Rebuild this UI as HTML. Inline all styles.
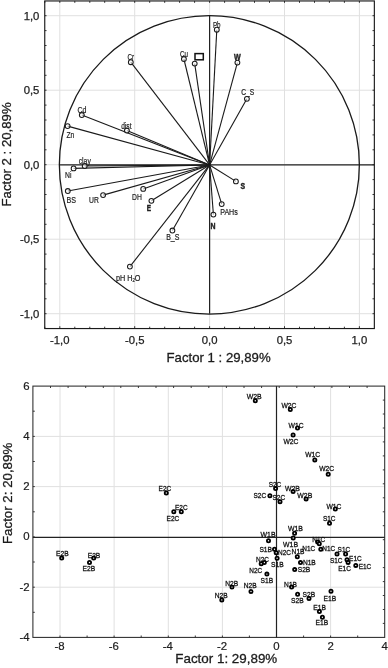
<!DOCTYPE html><html><head><meta charset="utf-8"><title>PCA plots</title><style>
html,body{margin:0;padding:0;background:#fff}svg{display:block}
text{font-family:"Liberation Sans",Arial,sans-serif;fill:#1c1c1c}
.tk{font-size:11.3px;stroke:#1c1c1c;stroke-width:0.25}.tk2{font-size:11.4px;stroke:#1c1c1c;stroke-width:0.2}.ti{font-size:13.2px;stroke:#1c1c1c;stroke-width:0.3}.lb{font-size:9.2px;fill:#222;stroke:#222;stroke-width:0.22}.lb2{font-size:8px;fill:#111;stroke:#111;stroke-width:0.3}.b{font-weight:bold;stroke-width:0.45 !important}
.g{stroke:#e0e0e0;stroke-width:1;fill:none}
.ln{stroke:#1a1a1a;stroke-width:1.1;fill:none}
</style></head><body>
<svg width="388" height="668" viewBox="0 0 388 668">
<rect width="388" height="668" fill="#fff"/>
<line class="g" x1="59.8" y1="0.95" x2="59.8" y2="328.5"/>
<line class="g" x1="44.75" y1="313.7" x2="374.3" y2="313.7"/>
<line class="g" x1="134.7" y1="0.95" x2="134.7" y2="328.5"/>
<line class="g" x1="44.75" y1="239.2" x2="374.3" y2="239.2"/>
<line class="g" x1="209.6" y1="0.95" x2="209.6" y2="328.5"/>
<line class="g" x1="44.75" y1="164.7" x2="374.3" y2="164.7"/>
<line class="g" x1="284.5" y1="0.95" x2="284.5" y2="328.5"/>
<line class="g" x1="44.75" y1="90.2" x2="374.3" y2="90.2"/>
<line class="g" x1="359.4" y1="0.95" x2="359.4" y2="328.5"/>
<line class="g" x1="44.75" y1="15.7" x2="374.3" y2="15.7"/>
<path d="M44.8 328.5v-1.8M44.8 0.95v1.9M59.8 328.5v-2.3M59.8 0.95v1.9M44.75 313.7h1.8M374.3 313.7h-1.8M74.8 328.5v-1.8M74.8 0.95v1.9M44.75 298.8h1.8M374.3 298.8h-1.8M89.8 328.5v-1.8M89.8 0.95v1.9M44.75 283.9h1.8M374.3 283.9h-1.8M104.7 328.5v-1.8M104.7 0.95v1.9M44.75 269.0h1.8M374.3 269.0h-1.8M119.7 328.5v-1.8M119.7 0.95v1.9M44.75 254.1h1.8M374.3 254.1h-1.8M134.7 328.5v-2.3M134.7 0.95v1.9M44.75 239.2h1.8M374.3 239.2h-1.8M149.7 328.5v-1.8M149.7 0.95v1.9M44.75 224.3h1.8M374.3 224.3h-1.8M164.7 328.5v-1.8M164.7 0.95v1.9M44.75 209.4h1.8M374.3 209.4h-1.8M179.6 328.5v-1.8M179.6 0.95v1.9M44.75 194.5h1.8M374.3 194.5h-1.8M194.6 328.5v-1.8M194.6 0.95v1.9M44.75 179.6h1.8M374.3 179.6h-1.8M209.6 328.5v-2.3M209.6 0.95v1.9M44.75 164.7h1.8M374.3 164.7h-1.8M224.6 328.5v-1.8M224.6 0.95v1.9M44.75 149.8h1.8M374.3 149.8h-1.8M239.6 328.5v-1.8M239.6 0.95v1.9M44.75 134.9h1.8M374.3 134.9h-1.8M254.5 328.5v-1.8M254.5 0.95v1.9M44.75 120.0h1.8M374.3 120.0h-1.8M269.5 328.5v-1.8M269.5 0.95v1.9M44.75 105.1h1.8M374.3 105.1h-1.8M284.5 328.5v-2.3M284.5 0.95v1.9M44.75 90.2h1.8M374.3 90.2h-1.8M299.5 328.5v-1.8M299.5 0.95v1.9M44.75 75.3h1.8M374.3 75.3h-1.8M314.5 328.5v-1.8M314.5 0.95v1.9M44.75 60.4h1.8M374.3 60.4h-1.8M329.4 328.5v-1.8M329.4 0.95v1.9M44.75 45.5h1.8M374.3 45.5h-1.8M344.4 328.5v-1.8M344.4 0.95v1.9M44.75 30.6h1.8M374.3 30.6h-1.8M359.4 328.5v-2.3M359.4 0.95v1.9M44.75 15.7h1.8M374.3 15.7h-1.8" stroke="#222" stroke-width="0.9" fill="none"/>
<rect x="44.75" y="0.95" width="329.6" height="327.6" fill="none" stroke="#1a1a1a" stroke-width="1.15"/>
<line x1="59.4" y1="164.9" x2="374.3" y2="164.9" stroke="#222" stroke-width="1.2"/>
<line x1="209.6" y1="15.7" x2="209.6" y2="313.7" stroke="#222" stroke-width="1.2"/>
<ellipse cx="209.35" cy="164.85" rx="150.0" ry="149.2" fill="none" stroke="#1a1a1a" stroke-width="1.3"/>
<line class="ln" x1="209.6" y1="164.95" x2="130.8" y2="62.2"/>
<line class="ln" x1="209.6" y1="164.95" x2="183.9" y2="59.0"/>
<line class="ln" x1="209.6" y1="164.95" x2="194.7" y2="63.6"/>
<line class="ln" x1="209.6" y1="164.95" x2="216.8" y2="29.7"/>
<line class="ln" x1="209.6" y1="164.95" x2="237.4" y2="62.6"/>
<line class="ln" x1="209.6" y1="164.95" x2="246.9" y2="98.8"/>
<line class="ln" x1="209.6" y1="164.95" x2="81.8" y2="115.0"/>
<line class="ln" x1="209.6" y1="164.95" x2="67.6" y2="126.1"/>
<line class="ln" x1="209.6" y1="164.95" x2="126.9" y2="130.5"/>
<line class="ln" x1="209.6" y1="164.95" x2="84.7" y2="166.0"/>
<line class="ln" x1="209.6" y1="164.95" x2="73.6" y2="168.4"/>
<line class="ln" x1="209.6" y1="164.95" x2="67.8" y2="191.0"/>
<line class="ln" x1="209.6" y1="164.95" x2="103.1" y2="195.1"/>
<line class="ln" x1="209.6" y1="164.95" x2="143.2" y2="188.9"/>
<line class="ln" x1="209.6" y1="164.95" x2="151.4" y2="200.8"/>
<line class="ln" x1="209.6" y1="164.95" x2="172.4" y2="230.5"/>
<line class="ln" x1="209.6" y1="164.95" x2="129.9" y2="266.6"/>
<line class="ln" x1="209.6" y1="164.95" x2="235.9" y2="181.4"/>
<line class="ln" x1="209.6" y1="164.95" x2="221.7" y2="204.1"/>
<line class="ln" x1="209.6" y1="164.95" x2="213.4" y2="214.6"/>
<circle cx="130.8" cy="62.2" r="2.4" fill="#fff" fill-opacity="0.6" stroke="#1a1a1a" stroke-width="1.05"/>
<circle cx="183.9" cy="59.0" r="2.4" fill="#fff" fill-opacity="0.6" stroke="#1a1a1a" stroke-width="1.05"/>
<circle cx="194.7" cy="63.6" r="2.4" fill="#fff" fill-opacity="0.6" stroke="#1a1a1a" stroke-width="1.05"/>
<circle cx="216.8" cy="29.7" r="2.4" fill="#fff" fill-opacity="0.6" stroke="#1a1a1a" stroke-width="1.05"/>
<circle cx="237.4" cy="62.6" r="2.4" fill="#fff" fill-opacity="0.6" stroke="#1a1a1a" stroke-width="1.05"/>
<circle cx="246.9" cy="98.8" r="2.4" fill="#fff" fill-opacity="0.6" stroke="#1a1a1a" stroke-width="1.05"/>
<circle cx="81.8" cy="115.0" r="2.4" fill="#fff" fill-opacity="0.6" stroke="#1a1a1a" stroke-width="1.05"/>
<circle cx="67.6" cy="126.1" r="2.4" fill="#fff" fill-opacity="0.6" stroke="#1a1a1a" stroke-width="1.05"/>
<circle cx="126.9" cy="130.5" r="2.4" fill="#fff" fill-opacity="0.6" stroke="#1a1a1a" stroke-width="1.05"/>
<circle cx="84.7" cy="166.0" r="2.4" fill="#fff" fill-opacity="0.6" stroke="#1a1a1a" stroke-width="1.05"/>
<circle cx="73.6" cy="168.4" r="2.4" fill="#fff" fill-opacity="0.6" stroke="#1a1a1a" stroke-width="1.05"/>
<circle cx="67.8" cy="191.0" r="2.4" fill="#fff" fill-opacity="0.6" stroke="#1a1a1a" stroke-width="1.05"/>
<circle cx="103.1" cy="195.1" r="2.4" fill="#fff" fill-opacity="0.6" stroke="#1a1a1a" stroke-width="1.05"/>
<circle cx="143.2" cy="188.9" r="2.4" fill="#fff" fill-opacity="0.6" stroke="#1a1a1a" stroke-width="1.05"/>
<circle cx="151.4" cy="200.8" r="2.4" fill="#fff" fill-opacity="0.6" stroke="#1a1a1a" stroke-width="1.05"/>
<circle cx="172.4" cy="230.5" r="2.4" fill="#fff" fill-opacity="0.6" stroke="#1a1a1a" stroke-width="1.05"/>
<circle cx="129.9" cy="266.6" r="2.4" fill="#fff" fill-opacity="0.6" stroke="#1a1a1a" stroke-width="1.05"/>
<circle cx="235.9" cy="181.4" r="2.4" fill="#fff" fill-opacity="0.6" stroke="#1a1a1a" stroke-width="1.05"/>
<circle cx="221.7" cy="204.1" r="2.4" fill="#fff" fill-opacity="0.6" stroke="#1a1a1a" stroke-width="1.05"/>
<circle cx="213.4" cy="214.6" r="2.4" fill="#fff" fill-opacity="0.6" stroke="#1a1a1a" stroke-width="1.05"/>
<rect x="195.0" y="53.6" width="8.3" height="6.2" fill="#fff" stroke="#111" stroke-width="1.5"/>
<text class="lb" x="127.4" y="60.0" textLength="6.6" lengthAdjust="spacingAndGlyphs">Cr</text>
<text class="lb" x="179.9" y="56.7" textLength="8.0" lengthAdjust="spacingAndGlyphs">Cu</text>
<text class="lb" x="212.9" y="27.9" textLength="7.7" lengthAdjust="spacingAndGlyphs">Pb</text>
<text class="lb b" x="234.0" y="60.3" textLength="6.7" lengthAdjust="spacingAndGlyphs">W</text>
<text class="lb" x="241.2" y="94.8" textLength="12.9" lengthAdjust="spacingAndGlyphs">C_S</text>
<text class="lb" x="77.4" y="112.5" textLength="9.0" lengthAdjust="spacingAndGlyphs">Cd</text>
<text class="lb" x="66.5" y="138.3" textLength="7.8" lengthAdjust="spacingAndGlyphs">Zn</text>
<text class="lb" x="121.2" y="128.5" textLength="10.3" lengthAdjust="spacingAndGlyphs">dist</text>
<text class="lb" x="78.7" y="163.9" textLength="12.1" lengthAdjust="spacingAndGlyphs">clay</text>
<text class="lb" x="65.0" y="178.0" textLength="6.4" lengthAdjust="spacingAndGlyphs">Ni</text>
<text class="lb" x="66.5" y="202.8" textLength="9.5" lengthAdjust="spacingAndGlyphs">BS</text>
<text class="lb" x="89.0" y="202.5" textLength="9.8" lengthAdjust="spacingAndGlyphs">UR</text>
<text class="lb" x="132.0" y="199.8" textLength="9.8" lengthAdjust="spacingAndGlyphs">DH</text>
<text class="lb b" x="146.7" y="211.2" textLength="4.3" lengthAdjust="spacingAndGlyphs">E</text>
<text class="lb" x="166.2" y="239.8" textLength="13.2" lengthAdjust="spacingAndGlyphs">B_S</text>
<text class="lb" x="116.0" y="280.6" textLength="24.5" lengthAdjust="spacingAndGlyphs">pH H<tspan font-size="5.5px" dy="1.5">2</tspan><tspan dy="-1.5">O</tspan></text>
<text class="lb b" x="240.5" y="188.7" textLength="4.6" lengthAdjust="spacingAndGlyphs">S</text>
<text class="lb" x="220.2" y="214.8" textLength="17.6" lengthAdjust="spacingAndGlyphs">PAHs</text>
<text class="lb b" x="210.5" y="228.5" textLength="5.0" lengthAdjust="spacingAndGlyphs">N</text>
<text class="tk" x="59.8" y="343.7" text-anchor="middle">-1,0</text>
<text class="tk" x="39.4" y="317.6" text-anchor="end">-1,0</text>
<text class="tk" x="134.7" y="343.7" text-anchor="middle">-0,5</text>
<text class="tk" x="39.4" y="243.1" text-anchor="end">-0,5</text>
<text class="tk" x="209.6" y="343.7" text-anchor="middle">0,0</text>
<text class="tk" x="39.4" y="168.6" text-anchor="end">0,0</text>
<text class="tk" x="284.5" y="343.7" text-anchor="middle">0,5</text>
<text class="tk" x="39.4" y="94.1" text-anchor="end">0,5</text>
<text class="tk" x="359.4" y="343.7" text-anchor="middle">1,0</text>
<text class="tk" x="39.4" y="19.6" text-anchor="end">1,0</text>
<text class="ti" x="218.6" y="362.3" text-anchor="middle">Factor 1 : 29,89%</text>
<text class="ti" transform="translate(10.8,154.4) rotate(-90)" text-anchor="middle">Factor 2 : 20,89%</text>
<line class="g" x1="60.0" y1="386.1" x2="60.0" y2="637.4"/>
<line class="g" x1="114.1" y1="386.1" x2="114.1" y2="637.4"/>
<line class="g" x1="168.3" y1="386.1" x2="168.3" y2="637.4"/>
<line class="g" x1="222.4" y1="386.1" x2="222.4" y2="637.4"/>
<line class="g" x1="330.6" y1="386.1" x2="330.6" y2="637.4"/>
<line class="g" x1="32.9" y1="587.2" x2="384.7" y2="587.2"/>
<line class="g" x1="32.9" y1="486.6" x2="384.7" y2="486.6"/>
<line class="g" x1="32.9" y1="436.4" x2="384.7" y2="436.4"/>
<path d="M60.0 637.4v-1.9M87.1 637.4v-1.9M114.1 637.4v-1.9M141.2 637.4v-1.9M168.3 637.4v-1.9M195.3 637.4v-1.9M222.4 637.4v-1.9M249.4 637.4v-1.9M276.5 637.4v-1.9M303.6 637.4v-1.9M330.6 637.4v-1.9M357.7 637.4v-1.9M32.9 612.3h1.9M32.9 587.2h1.9M32.9 562.0h1.9M32.9 536.9h1.9M32.9 511.8h1.9M32.9 486.6h1.9M32.9 461.5h1.9M32.9 436.4h1.9M32.9 411.2h1.9M50.5 386.1v1.9M68.1 386.1v1.9M85.7 386.1v1.9M103.3 386.1v1.9M120.8 386.1v1.9M138.4 386.1v1.9M156.0 386.1v1.9M173.6 386.1v1.9M191.2 386.1v1.9M208.8 386.1v1.9M226.4 386.1v1.9M244.0 386.1v1.9M261.6 386.1v1.9M279.2 386.1v1.9M296.8 386.1v1.9M314.3 386.1v1.9M331.9 386.1v1.9M349.5 386.1v1.9M367.1 386.1v1.9M384.7 400.1h-1.9M384.7 414.0h-1.9M384.7 428.0h-1.9M384.7 441.9h-1.9M384.7 455.9h-1.9M384.7 469.9h-1.9M384.7 483.8h-1.9M384.7 497.8h-1.9M384.7 511.8h-1.9M384.7 525.7h-1.9M384.7 539.7h-1.9M384.7 553.6h-1.9M384.7 567.6h-1.9M384.7 581.6h-1.9M384.7 595.5h-1.9M384.7 609.5h-1.9M384.7 623.4h-1.9" stroke="#222" stroke-width="0.9" fill="none"/>
<rect x="32.9" y="386.1" width="351.8" height="251.3" fill="none" stroke="#2a2a2a" stroke-width="1.05"/>
<line x1="32.9" y1="537.4" x2="384.7" y2="537.4" stroke="#222" stroke-width="1.2"/>
<line x1="276.5" y1="386.1" x2="276.5" y2="637.4" stroke="#222" stroke-width="1.2"/>
<text class="lb2" x="56.0" y="556.4" textLength="12.6" lengthAdjust="spacingAndGlyphs">E2B</text>
<text class="lb2" x="87.7" y="557.7" textLength="12.6" lengthAdjust="spacingAndGlyphs">E2B</text>
<text class="lb2" x="82.5" y="571.3" textLength="12.6" lengthAdjust="spacingAndGlyphs">E2B</text>
<text class="lb2" x="158.6" y="491.2" textLength="12.6" lengthAdjust="spacingAndGlyphs">E2C</text>
<text class="lb2" x="166.6" y="521.1" textLength="12.6" lengthAdjust="spacingAndGlyphs">E2C</text>
<text class="lb2" x="175.0" y="510.3" textLength="12.6" lengthAdjust="spacingAndGlyphs">E2C</text>
<text class="lb2" x="246.7" y="399.2" textLength="15.0" lengthAdjust="spacingAndGlyphs">W2B</text>
<text class="lb2" x="281.4" y="408.0" textLength="15.0" lengthAdjust="spacingAndGlyphs">W2C</text>
<text class="lb2" x="288.6" y="428.3" textLength="15.0" lengthAdjust="spacingAndGlyphs">W1C</text>
<text class="lb2" x="283.5" y="444.1" textLength="15.0" lengthAdjust="spacingAndGlyphs">W2C</text>
<text class="lb2" x="305.2" y="457.3" textLength="15.0" lengthAdjust="spacingAndGlyphs">W1C</text>
<text class="lb2" x="319.2" y="470.9" textLength="15.0" lengthAdjust="spacingAndGlyphs">W2C</text>
<text class="lb2" x="284.9" y="490.9" textLength="15.0" lengthAdjust="spacingAndGlyphs">W2B</text>
<text class="lb2" x="297.3" y="498.2" textLength="15.0" lengthAdjust="spacingAndGlyphs">W2B</text>
<text class="lb2" x="326.4" y="508.6" textLength="15.0" lengthAdjust="spacingAndGlyphs">W1C</text>
<text class="lb2" x="322.9" y="520.6" textLength="12.6" lengthAdjust="spacingAndGlyphs">S1C</text>
<text class="lb2" x="268.7" y="486.8" textLength="12.6" lengthAdjust="spacingAndGlyphs">S2C</text>
<text class="lb2" x="253.5" y="498.2" textLength="12.6" lengthAdjust="spacingAndGlyphs">S2C</text>
<text class="lb2" x="272.5" y="500.2" textLength="12.6" lengthAdjust="spacingAndGlyphs">S2C</text>
<text class="lb2" x="287.9" y="530.5" textLength="15.0" lengthAdjust="spacingAndGlyphs">W1B</text>
<text class="lb2" x="283.1" y="546.6" textLength="15.0" lengthAdjust="spacingAndGlyphs">W1B</text>
<text class="lb2" x="260.5" y="536.7" textLength="15.0" lengthAdjust="spacingAndGlyphs">W1B</text>
<text class="lb2" x="259.4" y="551.7" textLength="12.6" lengthAdjust="spacingAndGlyphs">S1B</text>
<text class="lb2" x="278.0" y="555.2" textLength="12.9" lengthAdjust="spacingAndGlyphs">N2C</text>
<text class="lb2" x="271.0" y="566.5" textLength="12.6" lengthAdjust="spacingAndGlyphs">S1B</text>
<text class="lb2" x="256.0" y="561.5" textLength="12.9" lengthAdjust="spacingAndGlyphs">N2C</text>
<text class="lb2" x="249.3" y="572.6" textLength="12.9" lengthAdjust="spacingAndGlyphs">N2C</text>
<text class="lb2" x="260.5" y="582.8" textLength="12.6" lengthAdjust="spacingAndGlyphs">S1B</text>
<text class="lb2" x="291.6" y="554.3" textLength="12.9" lengthAdjust="spacingAndGlyphs">N1B</text>
<text class="lb2" x="302.9" y="565.1" textLength="12.9" lengthAdjust="spacingAndGlyphs">N1B</text>
<text class="lb2" x="297.7" y="572.3" textLength="12.6" lengthAdjust="spacingAndGlyphs">S2B</text>
<text class="lb2" x="312.3" y="541.6" textLength="12.9" lengthAdjust="spacingAndGlyphs">N1C</text>
<text class="lb2" x="302.3" y="551.0" textLength="12.9" lengthAdjust="spacingAndGlyphs">N1C</text>
<text class="lb2" x="322.3" y="551.0" textLength="12.9" lengthAdjust="spacingAndGlyphs">N1C</text>
<text class="lb2" x="337.6" y="551.6" textLength="12.6" lengthAdjust="spacingAndGlyphs">S1C</text>
<text class="lb2" x="329.9" y="563.3" textLength="12.6" lengthAdjust="spacingAndGlyphs">S1C</text>
<text class="lb2" x="349.1" y="560.6" textLength="12.6" lengthAdjust="spacingAndGlyphs">E1C</text>
<text class="lb2" x="338.3" y="570.6" textLength="12.6" lengthAdjust="spacingAndGlyphs">E1C</text>
<text class="lb2" x="358.7" y="569.0" textLength="12.6" lengthAdjust="spacingAndGlyphs">E1C</text>
<text class="lb2" x="225.2" y="586.0" textLength="12.9" lengthAdjust="spacingAndGlyphs">N2B</text>
<text class="lb2" x="243.8" y="588.1" textLength="12.9" lengthAdjust="spacingAndGlyphs">N2B</text>
<text class="lb2" x="214.8" y="598.3" textLength="12.9" lengthAdjust="spacingAndGlyphs">N2B</text>
<text class="lb2" x="284.1" y="586.5" textLength="12.9" lengthAdjust="spacingAndGlyphs">N1B</text>
<text class="lb2" x="291.0" y="602.7" textLength="12.6" lengthAdjust="spacingAndGlyphs">S2B</text>
<text class="lb2" x="302.6" y="597.4" textLength="12.6" lengthAdjust="spacingAndGlyphs">S2B</text>
<text class="lb2" x="323.5" y="600.8" textLength="12.6" lengthAdjust="spacingAndGlyphs">E1B</text>
<text class="lb2" x="313.3" y="610.1" textLength="12.6" lengthAdjust="spacingAndGlyphs">E1B</text>
<text class="lb2" x="315.6" y="625.2" textLength="12.6" lengthAdjust="spacingAndGlyphs">E1B</text>
<circle cx="61.7" cy="558.1" r="1.6" fill="#fff" stroke="#000" stroke-width="1.8"/>
<circle cx="93.7" cy="558.1" r="1.6" fill="#fff" stroke="#000" stroke-width="1.8"/>
<circle cx="89.5" cy="562.5" r="1.6" fill="#fff" stroke="#000" stroke-width="1.8"/>
<circle cx="166.3" cy="493.0" r="1.6" fill="#fff" stroke="#000" stroke-width="1.8"/>
<circle cx="173.8" cy="511.8" r="1.6" fill="#fff" stroke="#000" stroke-width="1.8"/>
<circle cx="181.3" cy="511.8" r="1.6" fill="#fff" stroke="#000" stroke-width="1.8"/>
<circle cx="255.3" cy="400.7" r="1.6" fill="#fff" stroke="#000" stroke-width="1.8"/>
<circle cx="290.3" cy="409.5" r="1.6" fill="#fff" stroke="#000" stroke-width="1.8"/>
<circle cx="297.5" cy="428.0" r="1.6" fill="#fff" stroke="#000" stroke-width="1.8"/>
<circle cx="293.1" cy="435.0" r="1.6" fill="#fff" stroke="#000" stroke-width="1.8"/>
<circle cx="314.8" cy="459.9" r="1.6" fill="#fff" stroke="#000" stroke-width="1.8"/>
<circle cx="328.2" cy="474.3" r="1.6" fill="#fff" stroke="#000" stroke-width="1.8"/>
<circle cx="293.1" cy="491.6" r="1.6" fill="#fff" stroke="#000" stroke-width="1.8"/>
<circle cx="306.1" cy="498.9" r="1.6" fill="#fff" stroke="#000" stroke-width="1.8"/>
<circle cx="335.3" cy="509.0" r="1.6" fill="#fff" stroke="#000" stroke-width="1.8"/>
<circle cx="329.5" cy="523.3" r="1.6" fill="#fff" stroke="#000" stroke-width="1.8"/>
<circle cx="275.6" cy="488.6" r="1.6" fill="#fff" stroke="#000" stroke-width="1.8"/>
<circle cx="269.9" cy="495.8" r="1.6" fill="#fff" stroke="#000" stroke-width="1.8"/>
<circle cx="280.0" cy="501.7" r="1.6" fill="#fff" stroke="#000" stroke-width="1.8"/>
<circle cx="294.6" cy="533.2" r="1.6" fill="#fff" stroke="#000" stroke-width="1.8"/>
<circle cx="293.2" cy="538.0" r="1.6" fill="#fff" stroke="#000" stroke-width="1.8"/>
<circle cx="268.5" cy="540.8" r="1.6" fill="#fff" stroke="#000" stroke-width="1.8"/>
<circle cx="274.5" cy="549.2" r="1.6" fill="#fff" stroke="#000" stroke-width="1.8"/>
<circle cx="276.2" cy="552.7" r="1.6" fill="#fff" stroke="#000" stroke-width="1.8"/>
<circle cx="277.1" cy="558.2" r="1.6" fill="#fff" stroke="#000" stroke-width="1.8"/>
<circle cx="264.3" cy="562.5" r="1.6" fill="#fff" stroke="#000" stroke-width="1.8"/>
<circle cx="261.2" cy="563.8" r="1.6" fill="#fff" stroke="#000" stroke-width="1.8"/>
<circle cx="266.9" cy="574.1" r="1.6" fill="#fff" stroke="#000" stroke-width="1.8"/>
<circle cx="297.3" cy="556.8" r="1.6" fill="#fff" stroke="#000" stroke-width="1.8"/>
<circle cx="300.5" cy="562.6" r="1.6" fill="#fff" stroke="#000" stroke-width="1.8"/>
<circle cx="294.7" cy="569.6" r="1.6" fill="#fff" stroke="#000" stroke-width="1.8"/>
<circle cx="317.7" cy="542.1" r="1.6" fill="#fff" stroke="#000" stroke-width="1.8"/>
<circle cx="319.3" cy="543.7" r="1.6" fill="#fff" stroke="#000" stroke-width="1.8"/>
<circle cx="320.8" cy="549.3" r="1.6" fill="#fff" stroke="#000" stroke-width="1.8"/>
<circle cx="337.0" cy="554.0" r="1.6" fill="#fff" stroke="#000" stroke-width="1.8"/>
<circle cx="345.6" cy="554.0" r="1.6" fill="#fff" stroke="#000" stroke-width="1.8"/>
<circle cx="347.0" cy="559.7" r="1.6" fill="#fff" stroke="#000" stroke-width="1.8"/>
<circle cx="348.1" cy="562.4" r="1.6" fill="#fff" stroke="#000" stroke-width="1.8"/>
<circle cx="355.8" cy="565.4" r="1.6" fill="#fff" stroke="#000" stroke-width="1.8"/>
<circle cx="232.0" cy="587.1" r="1.6" fill="#fff" stroke="#000" stroke-width="1.8"/>
<circle cx="251.0" cy="591.5" r="1.6" fill="#fff" stroke="#000" stroke-width="1.8"/>
<circle cx="221.8" cy="599.9" r="1.6" fill="#fff" stroke="#000" stroke-width="1.8"/>
<circle cx="291.6" cy="587.1" r="1.6" fill="#fff" stroke="#000" stroke-width="1.8"/>
<circle cx="297.6" cy="594.3" r="1.6" fill="#fff" stroke="#000" stroke-width="1.8"/>
<circle cx="309.0" cy="598.5" r="1.6" fill="#fff" stroke="#000" stroke-width="1.8"/>
<circle cx="331.0" cy="591.3" r="1.6" fill="#fff" stroke="#000" stroke-width="1.8"/>
<circle cx="319.4" cy="611.5" r="1.6" fill="#fff" stroke="#000" stroke-width="1.8"/>
<circle cx="322.4" cy="617.3" r="1.6" fill="#fff" stroke="#000" stroke-width="1.8"/>
<text class="tk2" x="59.6" y="650.0" text-anchor="middle">-8</text>
<text class="tk2" x="113.7" y="650.0" text-anchor="middle">-6</text>
<text class="tk2" x="167.9" y="650.0" text-anchor="middle">-4</text>
<text class="tk2" x="222.0" y="650.0" text-anchor="middle">-2</text>
<text class="tk2" x="276.5" y="650.0" text-anchor="middle">0</text>
<text class="tk2" x="330.6" y="650.0" text-anchor="middle">2</text>
<text class="tk2" x="384.7" y="650.0" text-anchor="middle">4</text>
<text class="tk2" x="29.6" y="640.8" text-anchor="end">-4</text>
<text class="tk2" x="29.6" y="590.6" text-anchor="end">-2</text>
<text class="tk2" x="29.6" y="540.3" text-anchor="end">0</text>
<text class="tk2" x="29.6" y="490.0" text-anchor="end">2</text>
<text class="tk2" x="29.6" y="439.8" text-anchor="end">4</text>
<text class="tk2" x="29.6" y="389.5" text-anchor="end">6</text>
<text class="ti" x="226.3" y="663.3" text-anchor="middle" style="font-size:13.4px">Factor 1: 29,89%</text>
<text class="ti" transform="translate(11.8,493.4) rotate(-90)" text-anchor="middle" style="font-size:13.3px">Factor 2: 20,89%</text>
</svg></body></html>
